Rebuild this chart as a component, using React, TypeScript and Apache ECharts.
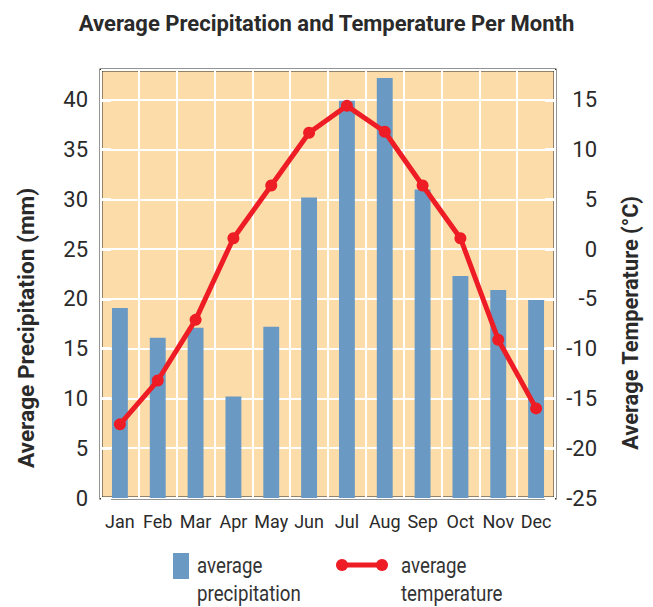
import React, { useEffect, useRef } from "react";
import * as echarts from "echarts";

const months = ["Jan", "Feb", "Mar", "Apr", "May", "Jun", "Jul", "Aug", "Sep", "Oct", "Nov", "Dec"];
const precipitation = [19.1, 16.1, 17.1, 10.2, 17.2, 30.2, 39.9, 42.2, 31.0, 22.3, 20.9, 19.9];
const temperature = [-17.6, -13.2, -7.1, 1.1, 6.4, 11.7, 14.4, 11.8, 6.4, 1.1, -9.1, -16.0];

const FONT = "Roboto, 'Liberation Sans', sans-serif";
const BAR = "#6a9ac4";
const RED = "#ee1c25";
const TXT = "#2a2a2a";

export default function App() {
  const ref = useRef<HTMLDivElement>(null);
  useEffect(() => {
    const chart = echarts.init(ref.current!, null, { renderer: "svg" });
    chart.setOption({
      animation: false,
      backgroundColor: "#ffffff",
      title: {
        text: "Average Precipitation and Temperature Per Month",
        left: "center",
        top: 7,
        textStyle: { fontFamily: FONT, fontWeight: "bold", fontSize: 22, color: TXT },
      },
      grid: {
        left: 101,
        right: 98,
        top: 70,
        bottom: 109,
        show: true,
        backgroundColor: "#fcdda9",
        borderColor: "#2b2b2b",
        borderWidth: 3,
        containLabel: false,
      },
      xAxis: {
        type: "category",
        data: months,
        boundaryGap: true,
        axisLine: { show: false },
        axisTick: { show: false },
        splitLine: { show: true, interval: 0, lineStyle: { color: "#ffffff", width: 2 } },
        axisLabel: { fontFamily: FONT, fontSize: 18, color: TXT, margin: 14, interval: 0 },
      },
      yAxis: [
        {
          type: "value",
          min: 0,
          max: 43,
          interval: 5,
          axisLine: { show: false },
          axisTick: { show: true, inside: true, length: 10, lineStyle: { color: "#ffffff", width: 3 } },
          splitLine: { show: true, lineStyle: { color: "#ffffff", width: 2 } },
          axisLabel: { fontFamily: FONT, fontSize: 22, color: TXT, margin: 13, showMaxLabel: false },
        },
        {
          type: "value",
          min: -25,
          max: 18,
          interval: 5,
          position: "right",
          axisLine: { show: false },
          axisTick: { show: true, inside: true, length: 10, lineStyle: { color: "#ffffff", width: 3 } },
          splitLine: { show: false },
          axisLabel: { fontFamily: FONT, fontSize: 22, color: TXT, margin: 42, align: "right", showMaxLabel: false },
        },
      ],
      series: [
        {
          name: "average precipitation",
          type: "bar",
          data: precipitation,
          yAxisIndex: 0,
          barWidth: "42%",
          itemStyle: { color: BAR },
        },
        {
          name: "average temperature",
          type: "line",
          data: temperature,
          yAxisIndex: 1,
          symbol: "circle",
          symbolSize: 12,
          lineStyle: { color: RED, width: 5 },
          itemStyle: { color: RED },
        },
      ],
      graphic: [
        {
          type: "text",
          x: 26,
          y: 328,
          rotation: Math.PI / 2,
          scaleX: 1.03,
          style: {
            text: "Average Precipitation (mm)",
            fontFamily: FONT,
            fontWeight: "bold",
            fontSize: 22,
            fill: TXT,
            align: "center",
            verticalAlign: "middle",
          },
        },
        {
          type: "text",
          x: 630,
          y: 323,
          rotation: Math.PI / 2,
          scaleX: 0.99,
          style: {
            text: "Average Temperature (°C)",
            fontFamily: FONT,
            fontWeight: "bold",
            fontSize: 22,
            fill: TXT,
            align: "center",
            verticalAlign: "middle",
          },
        },
        { type: "rect", shape: { x: 173, y: 553, width: 16, height: 26 }, style: { fill: BAR } },
        {
          type: "text",
          x: 197,
          y: 551,
          scaleX: 0.85,
          style: { text: "average\nprecipitation", fontFamily: FONT, fontSize: 22, lineHeight: 28, fill: "#333333" },
        },
        { type: "line", shape: { x1: 342, y1: 565, x2: 382, y2: 565 }, style: { stroke: RED, lineWidth: 5 } },
        { type: "circle", shape: { cx: 342, cy: 565, r: 6 }, style: { fill: RED } },
        { type: "circle", shape: { cx: 382, cy: 565, r: 6 }, style: { fill: RED } },
        {
          type: "text",
          x: 401,
          y: 551,
          scaleX: 0.85,
          style: { text: "average\ntemperature", fontFamily: FONT, fontSize: 22, lineHeight: 28, fill: "#333333" },
        },
      ],
    });
    return () => chart.dispose();
  }, []);
  return <div ref={ref} style={{ position: "fixed", left: 0, top: 0, width: 653, height: 607 }} />;
}
